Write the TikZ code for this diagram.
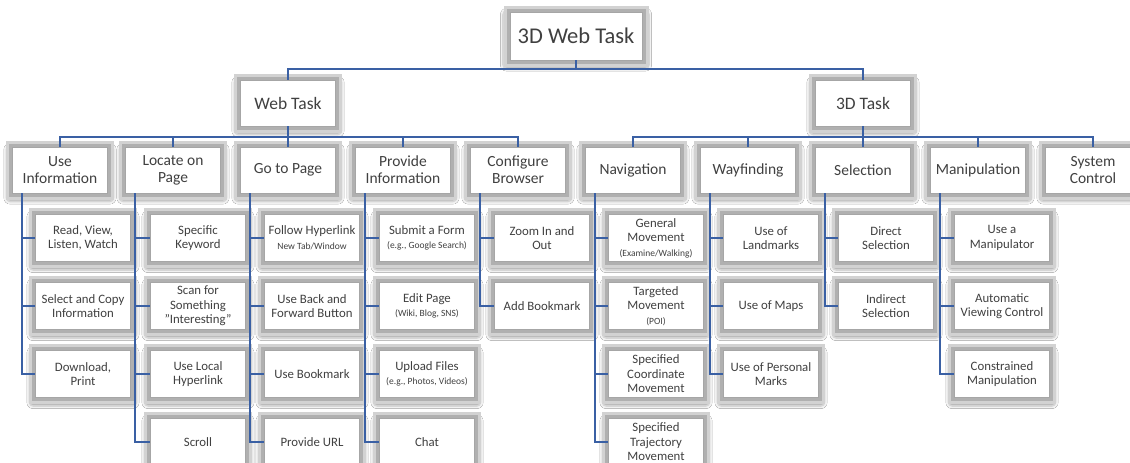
\documentclass[tikz,border=0pt]{standalone}
\usepackage{fontspec}
\setmainfont{Carlito}
\usepackage{tikz}
\usetikzlibrary{shadows.blur}
\definecolor{linkblue}{RGB}{58,96,164}
\definecolor{boxtext}{RGB}{64,64,64}
\newcommand{\subnote}[1]{{\fontsize{9.5}{11}\selectfont #1}}

\begin{document}
\begin{tikzpicture}[x=1pt,y=1pt,
  box/.style={rectangle,fill=white,draw=gray!70,line width=0.8pt,text=boxtext,align=center,inner sep=1pt,
    blur shadow={shadow xshift=0pt,shadow yshift=-3.5pt,shadow blur radius=6pt,shadow opacity=85,shadow scale=1.05},
    preaction={draw=gray!35,line width=13pt},
    preaction={draw=gray!62,line width=7pt}},
  topbox/.style={box,minimum width=132,minimum height=48,font=\fontsize{22.5}{25}\selectfont},
  taskbox/.style={box,minimum width=95,minimum height=46,font=\fontsize{17.5}{20}\selectfont},
  groupbox/.style={box,minimum width=95,minimum height=46,font=\fontsize{15.5}{17}\selectfont},
  leafbox/.style={box,minimum width=95,minimum height=47,font=\fontsize{12.8}{14.5}\selectfont},
  conn/.style={draw=linkblue,line width=2.4pt}]
\fill[white] (0,0) rectangle (1130,-463);
\useasboundingbox (0,0) rectangle (1130,-463);

% top levels
\node[topbox] (root) at (576,-36) {3D Web Task};
\node[taskbox] (web) at (288,-103) {Web Task};
\node[taskbox] (threed) at (863,-103) {3D Task};
\coordinate (rootbus) at (576,-69);
\coordinate (webbus) at (288,-137);
\coordinate (threedbus) at (863,-137);

% task groups
\node[groupbox] (useinfo) at (60,-170) {Use\\Information};
\node[groupbox] (locate) at (173,-170) {Locate on\\Page};
\node[groupbox] (gotopage) at (288,-170) {Go to Page};
\node[groupbox] (provide) at (403,-170) {Provide\\Information};
\node[groupbox] (config) at (518,-170) {Configure\\Browser};
\node[groupbox] (nav) at (633,-170) {Navigation};
\node[groupbox] (wayfind) at (748,-170) {Wayfinding};
\node[groupbox] (select) at (863,-170) {Selection};
\node[groupbox] (manip) at (978,-170) {Manipulation};
\node[groupbox] (sysctrl) at (1093,-170) {System\\Control};

% leaves, web side
\node[leafbox] (readview) at (83,-238) {Read, View,\\Listen, Watch};
\node[leafbox] (selcopy) at (83,-306) {Select and Copy\\Information};
\node[leafbox] (download) at (83,-374) {Download,\\Print};
\node[leafbox] (keyword) at (198,-238) {Specific\\Keyword};
\node[leafbox] (scan) at (198,-306) {Scan for\\Something\\"Interesting"};
\node[leafbox] (localhl) at (198,-374) {Use Local\\Hyperlink};
\node[leafbox] (scroll) at (198,-442) {Scroll};
\node[leafbox] (followhl) at (312,-238) {Follow Hyperlink\\\subnote{New Tab/Window}};
\node[leafbox] (backfwd) at (312,-306) {Use Back and\\Forward Button};
\node[leafbox] (usebm) at (312,-374) {Use Bookmark};
\node[leafbox] (url) at (312,-442) {Provide URL};
\node[leafbox] (submit) at (427,-238) {Submit a Form\\\subnote{(e.g., Google Search)}};
\node[leafbox] (edit) at (427,-306) {Edit Page\\\subnote{(Wiki, Blog, SNS)}};
\node[leafbox] (upload) at (427,-374) {Upload Files\\\subnote{(e.g., Photos, Videos)}};
\node[leafbox] (chat) at (427,-442) {Chat};
\node[leafbox] (zoom) at (542,-238) {Zoom In and\\Out};
\node[leafbox] (addbm) at (542,-306) {Add Bookmark};

% leaves, 3D side
\node[leafbox] (genmove) at (656,-238) {General\\Movement\\\subnote{(Examine/Walking)}};
\node[leafbox] (tgtmove) at (656,-306) {Targeted\\Movement\\\subnote{(POI)}};
\node[leafbox] (coordmove) at (656,-374) {Specified\\Coordinate\\Movement};
\node[leafbox] (trajmove) at (656,-442) {Specified\\Trajectory\\Movement};
\node[leafbox] (landmarks) at (771,-238) {Use of\\Landmarks};
\node[leafbox] (maps) at (771,-306) {Use of Maps};
\node[leafbox] (pmarks) at (771,-374) {Use of Personal\\Marks};
\node[leafbox] (directsel) at (886,-238) {Direct\\Selection};
\node[leafbox] (indirectsel) at (886,-306) {Indirect\\Selection};
\node[leafbox] (usemanip) at (1002,-238) {Use a\\Manipulator};
\node[leafbox] (autoview) at (1002,-306) {Automatic\\Viewing Control};
\node[leafbox] (constrmanip) at (1002,-374) {Constrained\\Manipulation};

% connectors, upper levels
\draw[conn] (root.south) -- (rootbus) -| (web.north);
\draw[conn] (rootbus) -| (threed.north);
\draw[conn] (web.south) -- (webbus) -| (useinfo.north);
\draw[conn] (webbus) -| (locate.north);
\draw[conn] (webbus) -- (gotopage.north);
\draw[conn] (webbus) -| (provide.north);
\draw[conn] (webbus) -| (config.north);
\draw[conn] (threed.south) -- (threedbus) -| (nav.north);
\draw[conn] (threedbus) -| (wayfind.north);
\draw[conn] (threedbus) -- (select.north);
\draw[conn] (threedbus) -| (manip.north);
\draw[conn] (threedbus) -| (sysctrl.north);

% connectors, leaves
\draw[conn] ([xshift=10pt]useinfo.south west) |- (readview.west);
\draw[conn] ([xshift=10pt]useinfo.south west) |- (selcopy.west);
\draw[conn] ([xshift=10pt]useinfo.south west) |- (download.west);
\draw[conn] ([xshift=10pt]locate.south west) |- (keyword.west);
\draw[conn] ([xshift=10pt]locate.south west) |- (scan.west);
\draw[conn] ([xshift=10pt]locate.south west) |- (localhl.west);
\draw[conn] ([xshift=10pt]locate.south west) |- (scroll.west);
\draw[conn] ([xshift=10pt]gotopage.south west) |- (followhl.west);
\draw[conn] ([xshift=10pt]gotopage.south west) |- (backfwd.west);
\draw[conn] ([xshift=10pt]gotopage.south west) |- (usebm.west);
\draw[conn] ([xshift=10pt]gotopage.south west) |- (url.west);
\draw[conn] ([xshift=10pt]provide.south west) |- (submit.west);
\draw[conn] ([xshift=10pt]provide.south west) |- (edit.west);
\draw[conn] ([xshift=10pt]provide.south west) |- (upload.west);
\draw[conn] ([xshift=10pt]provide.south west) |- (chat.west);
\draw[conn] ([xshift=10pt]config.south west) |- (zoom.west);
\draw[conn] ([xshift=10pt]config.south west) |- (addbm.west);
\draw[conn] ([xshift=10pt]nav.south west) |- (genmove.west);
\draw[conn] ([xshift=10pt]nav.south west) |- (tgtmove.west);
\draw[conn] ([xshift=10pt]nav.south west) |- (coordmove.west);
\draw[conn] ([xshift=10pt]nav.south west) |- (trajmove.west);
\draw[conn] ([xshift=10pt]wayfind.south west) |- (landmarks.west);
\draw[conn] ([xshift=10pt]wayfind.south west) |- (maps.west);
\draw[conn] ([xshift=10pt]wayfind.south west) |- (pmarks.west);
\draw[conn] ([xshift=10pt]select.south west) |- (directsel.west);
\draw[conn] ([xshift=10pt]select.south west) |- (indirectsel.west);
\draw[conn] ([xshift=10pt]manip.south west) |- (usemanip.west);
\draw[conn] ([xshift=10pt]manip.south west) |- (autoview.west);
\draw[conn] ([xshift=10pt]manip.south west) |- (constrmanip.west);
\end{tikzpicture}
\end{document}
